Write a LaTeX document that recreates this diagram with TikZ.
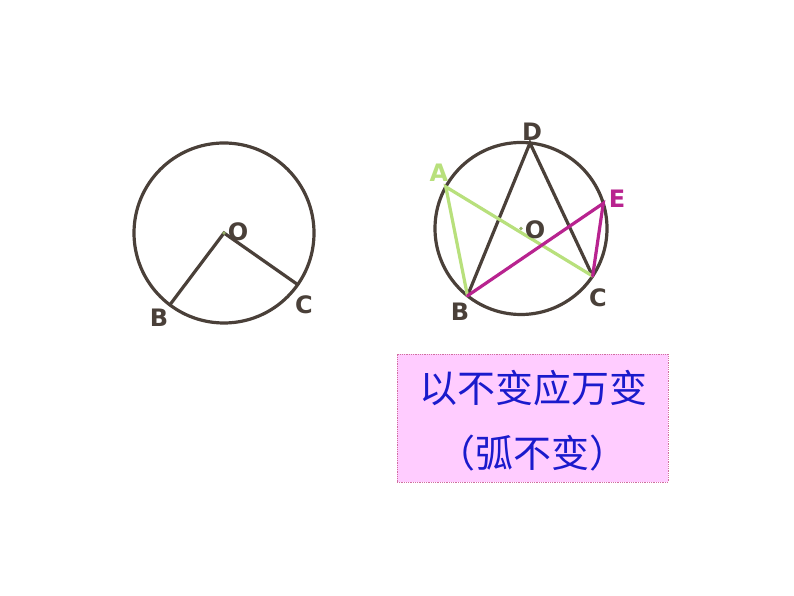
\documentclass[tikz,border=0pt]{standalone}
\usepackage{fontspec}
\usetikzlibrary{calc}
\setmainfont{DejaVu Sans}
\newfontfamily\cjk{Noto Sans CJK SC}
\definecolor{ink}{HTML}{4A4039}
\definecolor{lgreen}{HTML}{B8E07C}
\definecolor{mag}{HTML}{B8238F}
\definecolor{boxfill}{HTML}{FFCCFF}
\definecolor{boxline}{HTML}{D070A0}
\definecolor{txtblue}{HTML}{1A1ACC}
\begin{document}
\begin{tikzpicture}[x=1pt,y=1pt,
  circ/.style={draw=ink,line width=3.2pt},
  seg/.style={draw=ink,line width=3.2pt,line cap=round},
  lbl/.style={text=ink,font=\fontsize{24}{26}\selectfont\bfseries,inner sep=0pt},
  cjktext/.style={text=txtblue,font=\cjk\fontsize{38}{40}\selectfont,inner sep=0pt}]
\useasboundingbox[fill=white] (0,0) rectangle (794,596);
% left circle
\coordinate (O1) at (224,363);
\draw[circ] (O1) circle[radius=90];
\coordinate (B1) at ($(O1)+(-127:90)$);
\coordinate (C1) at ($(O1)+(-35:90)$);
\draw[seg] (B1) -- (O1) -- (C1);
\fill[lgreen!70!ink] (O1) circle[radius=1.8];
\node[lbl] (lO1) at (238,364) {O};
\node[lbl] (lB1) at (159,278) {B};
\node[lbl] (lC1) at (304,291) {C};
% right circle
\coordinate (O2) at (521,367.5);
\draw[circ] (O2) circle[radius=86];
\coordinate (D) at ($(O2)+(84:86)$);
\coordinate (A) at ($(O2)+(151:86)$);
\coordinate (E) at ($(O2)+(17:86)$);
\coordinate (C2) at ($(O2)+(-33.6:86)$);
\coordinate (B2) at ($(O2)+(-128.5:86)$);
\draw[seg] (B2) -- (D) -- (C2);
\draw[lgreen,line width=3.2pt,line cap=round] (C2) -- (A) -- (B2);
\draw[mag,line width=3.2pt,line cap=round] (B2) -- (E) -- (C2);
\fill[lgreen!70!ink] (O2) circle[radius=1.8];
\node[lbl] (lD) at (532,464) {D};
\node[lbl,text=lgreen] (lA) at (439,423) {A};
\node[lbl,text=mag] (lE) at (617,397) {E};
\node[lbl] (lO2) at (535,366) {O};
\node[lbl] (lB2) at (460,284) {B};
\node[lbl] (lC2) at (598,298) {C};
% box
\node[draw=boxline,densely dotted,line width=0.8pt,fill=boxfill,minimum width=271,minimum height=128,inner sep=0pt] (box) at (532.5,178) {};
\node[cjktext] (t1) at (533,208) {以不变应万变};
\node[cjktext] (t2) at (532,143) {（弧不变）};
\end{tikzpicture}
\end{document}
